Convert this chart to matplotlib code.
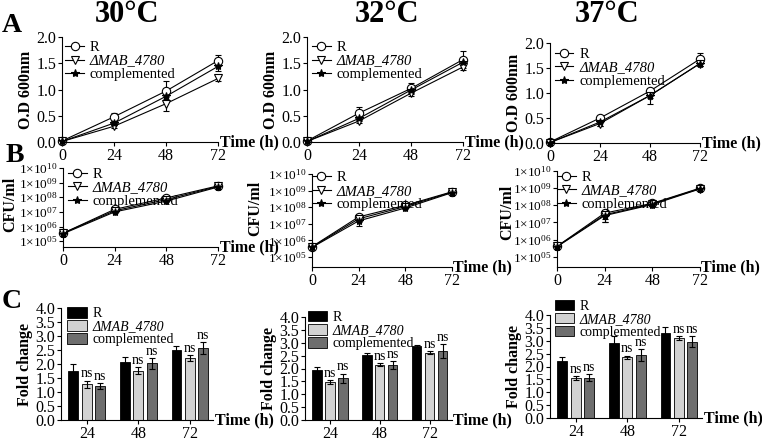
import numpy as np
import matplotlib.pyplot as plt
from matplotlib.ticker import NullLocator
from matplotlib.lines import Line2D

plt.rcParams['font.family'] = ['Liberation Serif', 'DejaVu Serif']
plt.rcParams['mathtext.fontset'] = 'custom'
plt.rcParams['mathtext.rm'] = 'Liberation Serif'
plt.rcParams['mathtext.it'] = 'Liberation Serif:italic'
plt.rcParams['mathtext.bf'] = 'Liberation Serif:bold'
plt.rcParams['axes.linewidth'] = 0.8

time_h = [0, 24, 48, 72]
bar_times = ['24', '48', '72']
temps = ['30°C', '32°C', '37°C']
strains = ['R', 'ΔMAB_4780', 'complemented']

# --- A: O.D 600nm (one row per temperature) ---
od_R = [[0.02, 0.48, 0.97, 1.55], [0.02, 0.55, 1.02, 1.57], [0.02, 0.50, 1.04, 1.68]]
od_mut = [[0.01, 0.30, 0.73, 1.21], [0.01, 0.40, 0.93, 1.43], [0.01, 0.39, 0.95, 1.59]]
od_comp = [[0.01, 0.36, 0.87, 1.44], [0.01, 0.45, 0.99, 1.52], [0.01, 0.42, 0.95, 1.59]]
od_R_sd = [[0.01, 0.08, 0.20, 0.11], [0.01, 0.12, 0.10, 0.16], [0.01, 0.04, 0.05, 0.13]]
od_mut_sd = [[0.01, 0.03, 0.13, 0.05], [0.01, 0.04, 0.05, 0.06], [0.01, 0.05, 0.05, 0.04]]
od_comp_sd = [[0.01, 0.04, 0.06, 0.08], [0.01, 0.05, 0.05, 0.05], [0.01, 0.08, 0.16, 0.04]]

# --- B: CFU/ml ---
cfu_R = [[3.5e5, 1.5e7, 9e7, 6e8], [4.2e5, 2.6e7, 1.3e8, 8.5e8], [4e5, 3.5e7, 1.3e8, 1.0e9]]
cfu_mut = [[3.5e5, 1.2e7, 7e7, 5.5e8], [4e5, 2.0e7, 1.1e8, 8e8], [4e5, 2.8e7, 1.2e8, 9.5e8]]
cfu_comp = [[3.2e5, 1.0e7, 5.5e7, 5e8], [3.8e5, 1.5e7, 9e7, 7.5e8], [3.8e5, 2.5e7, 1.1e8, 9e8]]
cfu_R_sd = [[5e4, 3e6, 1.5e7, 1e8], [8e4, 1.2e7, 2e7, 1.2e8], [8e4, 2.0e7, 2e7, 1.2e8]]
cfu_mut_sd = [[5e4, 2e6, 1e7, 8e7], [8e4, 8e6, 1.5e7, 1e8], [8e4, 1.8e7, 2e7, 1e8]]
cfu_comp_sd = [[5e4, 2e6, 1e7, 8e7], [8e4, 8e6, 1.5e7, 1e8], [8e4, 1.5e7, 2e7, 1e8]]

# --- C: fold change ---
fc_R = [[1.76, 2.08, 2.50], [1.93, 2.52, 2.88], [2.21, 2.90, 3.30]]
fc_mut = [[1.28, 1.76, 2.21], [1.48, 2.15, 2.62], [1.56, 2.35, 3.11]]
fc_comp = [[1.21, 2.02, 2.56], [1.62, 2.15, 2.68], [1.56, 2.44, 2.96]]
fc_R_sd = [[0.23, 0.17, 0.13], [0.12, 0.10, 0.03], [0.16, 0.28, 0.25]]
fc_mut_sd = [[0.13, 0.13, 0.10], [0.07, 0.07, 0.05], [0.07, 0.07, 0.08]]
fc_comp_sd = [[0.10, 0.20, 0.22], [0.18, 0.15, 0.27], [0.13, 0.23, 0.22]]

W, H = 762., 441.
fig = plt.figure(figsize=(W/100, H/100), dpi=100)

def box(l, t, r, b):
    return [l/W, 1-b/H, (r-l)/W, (b-t)/H]

boxA = [(62, 37, 218, 142), (307, 37, 463, 142), (550, 43, 700, 143)]
boxB = [(63, 168, 218, 247), (312, 174, 452, 267), (557, 171, 700, 267)]
boxC = [(61, 308, 213, 420), (305, 317, 452, 420), (550, 315, 702, 418)]
title_x = [127, 387, 607]
legA = [(0.02, 0.96), (0.03, 0.96), (0.03, 0.95)]
legB = [(0.03, 1.0), (0.0, 1.03), (0.0, 1.0)]
legC = [(0.04, 1.01), (0.02, 1.06), (0.03, 1.15)]
cfu_label_xy = [(-0.29, 0.54), (-0.35, 0.63), (-0.29, 0.57)]

def style(ax):
    for s in ['top', 'right']:
        ax.spines[s].set_visible(False)
    ax.tick_params(direction='out', length=3, width=0.8, labelsize=11.5, pad=1)
    ax.text(1.01, 0, 'Time (h)', transform=ax.transAxes, ha='left', va='center',
            fontsize=11.5, fontweight='bold')

def italic_mutant(leg):
    leg.get_texts()[1].set_fontstyle('italic')

markers = [dict(marker='o', mfc='white', ms=6), dict(marker='v', mfc='white', ms=6),
           dict(marker='*', mfc='black', ms=6)]
line_handles = [Line2D([], [], color='black', lw=0.8, mew=0.8, **m) for m in markers]

def line_legend(ax, anchor):
    leg = ax.legend(line_handles, strains, loc='upper left', bbox_to_anchor=anchor,
                    frameon=False, fontsize=10.5, handlelength=1.3, handletextpad=0.4,
                    labelspacing=0.0, borderpad=0.0, borderaxespad=0.0)
    italic_mutant(leg)

for i in range(3):
    fig.text(title_x[i]/W, 1-15/H, temps[i], fontsize=22, fontweight='bold',
             ha='center', va='center')

    # ---- A ----
    ax = fig.add_axes(box(*boxA[i]))
    for k, (m, s) in enumerate([(od_R, od_R_sd), (od_mut, od_mut_sd), (od_comp, od_comp_sd)]):
        ax.errorbar(time_h, m[i], yerr=s[i], color='black', lw=0.8, mew=0.8,
                    elinewidth=0.8, capsize=2.5, clip_on=False, **markers[k])
    ax.set_xlim(0, 72)
    ax.set_ylim(0, 2.0)
    ax.set_xticks(time_h)
    ax.set_yticks([0, 0.5, 1.0, 1.5, 2.0])
    ax.set_yticklabels(['%.1f' % v for v in [0, 0.5, 1.0, 1.5, 2.0]])
    ax.set_ylabel('O.D 600nm', fontsize=11.5, fontweight='bold', labelpad=2)
    style(ax)
    line_legend(ax, legA[i])

    # ---- B ----
    ax = fig.add_axes(box(*boxB[i]))
    for k, (m, s) in enumerate([(cfu_R, cfu_R_sd), (cfu_mut, cfu_mut_sd), (cfu_comp, cfu_comp_sd)]):
        ax.errorbar(time_h, m[i], yerr=s[i], color='black', lw=0.8, mew=0.8,
                    elinewidth=0.8, capsize=2.5, clip_on=False, **markers[k])
    ax.set_yscale('log')
    ax.set_xlim(0, 72)
    ax.set_ylim(4e4 if i == 0 else 2.5e4, 1e10)
    ax.set_xticks(time_h)
    ax.set_yticks([10.0**e for e in range(5, 11)])
    ax.set_yticklabels([r'$1{\times}10^{%02d}$' % e for e in range(5, 11)])
    ax.yaxis.set_minor_locator(NullLocator())
    ax.set_ylabel('CFU/ml', fontsize=11.5, fontweight='bold')
    ax.yaxis.set_label_coords(*cfu_label_xy[i])
    style(ax)
    ax.tick_params(axis='y', labelsize=9.5)
    line_legend(ax, legB[i])

    # ---- C ----
    ax = fig.add_axes(box(*boxC[i]))
    x = np.arange(3)
    colors = ['black', '#d2d2d2', '#6e6e6e']
    for k, (m, s) in enumerate([(fc_R, fc_R_sd), (fc_mut, fc_mut_sd), (fc_comp, fc_comp_sd)]):
        xs = x + (k - 1) * 0.26
        ax.bar(xs, m[i], width=0.19, color=colors[k], edgecolor='black', lw=0.6,
               yerr=s[i], capsize=2.5, error_kw=dict(elinewidth=0.8, capthick=0.8),
               label=strains[k])
        if k > 0:
            for xx, mm, ss in zip(xs, m[i], s[i]):
                ax.text(xx, mm + ss + 0.01, 'ns', ha='center', va='bottom', fontsize=10)
    ax.set_xlim(-0.5, 2.45)
    ax.set_ylim(0, 4.0)
    ax.set_xticks(x)
    ax.set_xticklabels(bar_times)
    ax.set_yticks(np.arange(0, 4.01, 0.5))
    ax.set_yticklabels(['%.1f' % v for v in np.arange(0, 4.01, 0.5)])
    ax.set_ylabel('Fold change', fontsize=11.5, fontweight='bold', labelpad=2)
    style(ax)
    leg = ax.legend(loc='upper left', bbox_to_anchor=legC[i], frameon=False, fontsize=10,
                    handlelength=1.4, handleheight=0.8, handletextpad=0.4, labelspacing=0.0,
                    borderpad=0.0, borderaxespad=0.0)
    italic_mutant(leg)

for lab, (x, y) in zip(['A', 'B', 'C'], [(12, 25), (15, 156), (12, 301)]):
    fig.text(x/W, 1-y/H, lab, fontsize=20, fontweight='bold', ha='center', va='center')

fig.savefig('out.png', dpi=100)
